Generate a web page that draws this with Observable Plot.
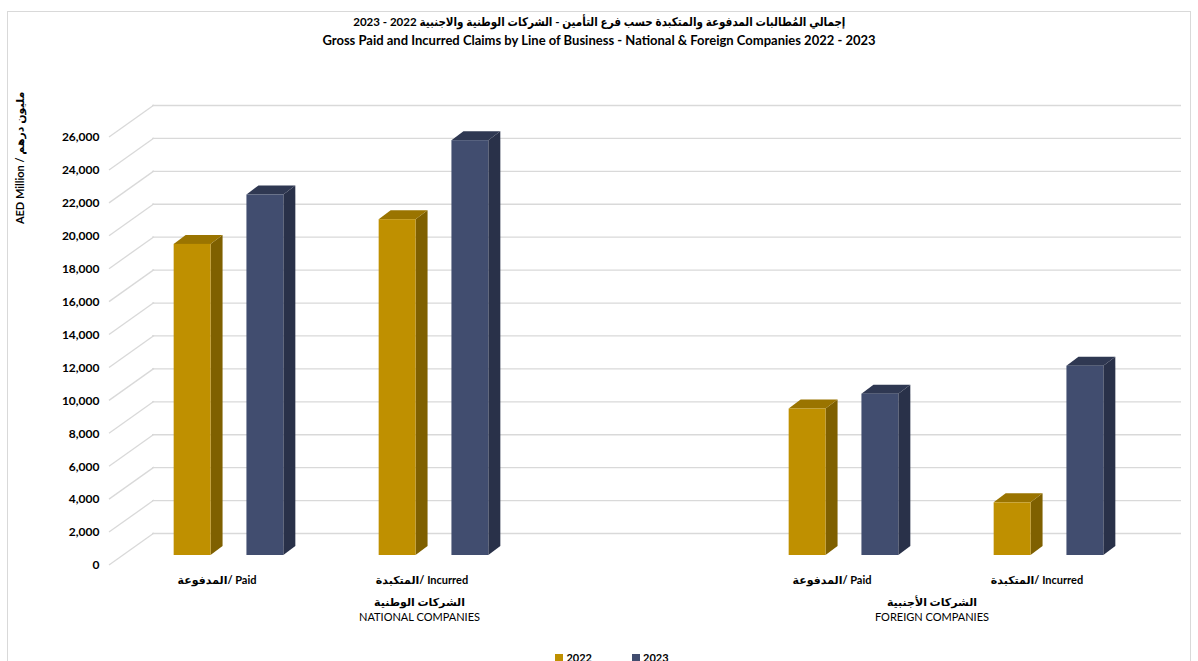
<!DOCTYPE html>
<html>
<head>
<meta charset="utf-8">
<script src="https://cdn.jsdelivr.net/npm/d3@7"></script>
<script src="https://cdn.jsdelivr.net/npm/@observablehq/plot@0.6"></script>
<style>
  body { margin: 0; background: #fff; }
  #wrap { position: relative; width: 1198px; height: 661px; overflow: hidden; font-family: Lato, "DejaVu Sans", sans-serif; }
  #frame { position: absolute; left: 7px; top: 11px; width: 1184px; height: 700px; border: 1px solid #d9d9d9; box-sizing: border-box; }
  #title { position: absolute; top: 10px; left: 0; width: 1198px; text-align: center; color: #000; }
  #title .ar { display: inline-block; font: bold 12px Lato, "DejaVu Sans Condensed", "DejaVu Sans", sans-serif; line-height: 18px; transform: scaleX(0.96); transform-origin: center; white-space: nowrap; }
  #title .en { display: inline-block; font: bold 13px Lato, "DejaVu Sans", sans-serif; line-height: 22px; white-space: nowrap; }
  #chart { position: absolute; top: 55px; left: 0; }
  #legend { position: absolute; top: 650px; left: 0; width: 1198px; display: flex; justify-content: center; gap: 40px; font: bold 11px Lato, sans-serif; line-height: 16px; padding-left: 26px; box-sizing: border-box; }
  #legend .item { display: flex; align-items: center; gap: 3px; }
  #legend .sw { width: 8px; height: 8px; display: inline-block; }
</style>
</head>
<body>
<div id="wrap">
  <div id="frame"></div>
  <div id="title">
    <div style="height:19px"><span class="ar" dir="rtl">إجمالي المُطالبات المدفوعة والمتكبدة حسب فرع التأمين - الشركات الوطنية والاجنبية 2022 - 2023</span></div>
    <div style="height:22px"><span class="en">Gross Paid and Incurred Claims by Line of Business - National &amp; Foreign Companies 2022 - 2023</span></div>
  </div>
  <div id="chart"></div>
  <div id="legend"></div>
</div>
<script>
// ---- data ----
const categoryKeys = ["nat-paid", "nat-incurred", "nat-gap", "for-paid", "for-incurred"];
const categoryLabels = ["المدفوعة/ Paid", "المتكبدة/ Incurred", "", "المدفوعة/ Paid", "المتكبدة/ Incurred"];
const groupNamesAr = ["الشركات الوطنية", "الشركات الأجنبية"];
const groupNamesEn = ["NATIONAL COMPANIES", "FOREIGN COMPANIES"];
const groupSpans = [["nat-paid", "nat-gap"], ["for-paid", "for-incurred"]];
const years = ["2022", "2023"];
const values2022 = [18900, 20400, null, 8900, 3200];
const values2023 = [21900, 25200, null, 9800, 11500];
const yTickValues = [0, 2000, 4000, 6000, 8000, 10000, 12000, 14000, 16000, 18000, 20000, 22000, 24000, 26000];
const yTickLabels = ["0", "2,000", "4,000", "6,000", "8,000", "10,000", "12,000", "14,000", "16,000", "18,000", "20,000", "22,000", "24,000", "26,000"];
const yTitle = "AED Million / مليون درهم";

// ---- styles ----
const colors = {
  "2022": {front: "#BF9000", side: "#7F6000", top: "#9A7400"},
  "2023": {front: "#414D6F", side: "#293149", top: "#2F3852"}
};
const gridColor = "#D9D9D9";
const backDx = 28, backDy = -22;   // back wall offset from bar plane
const frontDx = -17, frontDy = 10; // front (label) plane offset
const barDx = 12, barDy = -9;      // bar depth
const fontFam = "Lato, 'DejaVu Sans', sans-serif";

const bars = [];
categoryKeys.forEach((k, i) => {
  if (values2022[i] != null) bars.push({key: k, year: "2022", value: values2022[i]});
  if (values2023[i] != null) bars.push({key: k, year: "2023", value: values2023[i]});
});
const cats = categoryKeys.map((k, i) => ({key: k, label: categoryLabels[i]})).filter(d => d.label);

function floorLines(index, scales) {
  const g = d3.create("svg:g");
  const x0 = scales.x(categoryKeys[0]);
  for (const v of yTickValues) {
    const yv = scales.y(v);
    g.append("line")
      .attr("x1", x0 + frontDx).attr("y1", yv + frontDy)
      .attr("x2", x0 + backDx).attr("y2", yv + backDy)
      .attr("stroke", gridColor).attr("stroke-width", 1.3);
  }
  return g.node();
}

function bars3d(index, scales) {
  const g = d3.create("svg:g");
  const bw = scales.x.bandwidth();
  const y0 = scales.y(0);
  for (const d of bars) {
    const c = scales.x(d.key) + bw / 2 + (d.year === "2022" ? -1 : 1) * 0.1775 * bw;
    const w = 0.18 * bw;
    const xl = c - w / 2, xr = c + w / 2, yt = scales.y(d.value);
    const col = colors[d.year];
    g.append("polygon")
      .attr("points", [[xr, yt], [xr + barDx, yt + barDy], [xr + barDx, y0 + barDy], [xr, y0]].join(" "))
      .attr("fill", col.side);
    g.append("polygon")
      .attr("points", [[xl, yt], [xl + barDx, yt + barDy], [xr + barDx, yt + barDy], [xr, yt]].join(" "))
      .attr("fill", col.top);
    g.append("rect")
      .attr("x", xl).attr("y", yt).attr("width", w).attr("height", y0 - yt)
      .attr("fill", col.front);
  }
  return g.node();
}

function groupLabels(index, scales) {
  const g = d3.create("svg:g")
    .attr("font-family", fontFam).attr("font-size", 11).attr("text-anchor", "middle").attr("fill", "#000");
  const bw = scales.x.bandwidth();
  const y0 = scales.y(0);
  groupSpans.forEach((span, i) => {
    const cx = (scales.x(span[0]) + scales.x(span[1]) + bw) / 2 + frontDx + 3;
    g.append("text").attr("x", cx).attr("y", y0 + 47).attr("dy", "0.35em").attr("font-weight", "bold").text(groupNamesAr[i]);
    g.append("text").attr("x", cx).attr("y", y0 + 62).attr("dy", "0.35em").text(groupNamesEn[i]);
  });
  return g.node();
}

function yAxisTitle(index, scales) {
  // centred on the upper part of the value axis, left of the tick labels
  const yc = (scales.y(26000) + scales.y(22000)) / 2 - 2;
  const g = d3.create("svg:g")
    .attr("transform", `translate(20,${yc}) rotate(-90)`);
  g.append("text")
    .attr("text-anchor", "middle").attr("dy", "0.35em")
    .attr("font-family", fontFam).attr("font-size", 11).attr("font-weight", "bold").attr("fill", "#000")
    .text(yTitle);
  return g.node();
}

const chart = Plot.plot({
  width: 1198,
  height: 585,
  marginLeft: 124,
  marginRight: 45,
  marginTop: 72,
  marginBottom: 85,
  style: {fontFamily: fontFam, background: "transparent"},
  x: {type: "band", domain: categoryKeys, padding: 0, axis: null},
  y: {domain: [0, 26000], axis: null},
  marks: [
    Plot.ruleY(yTickValues, {y: d => d, dx: backDx, dy: backDy, stroke: gridColor, strokeWidth: 1.3}),
    floorLines,
    bars3d,
    Plot.text(yTickValues, {y: d => d, text: (d, i) => yTickLabels[i], frameAnchor: "left", textAnchor: "end", dx: -25, dy: frontDy, fontSize: 12, fontWeight: "bold", fill: "#000"}),
    yAxisTitle,
    Plot.text(cats, {x: "key", y: () => 0, text: "label", dx: frontDx + 5, dy: 25, fontSize: 11, fontWeight: "bold", fill: "#000"}),
    groupLabels
  ]
});
document.getElementById("chart").appendChild(chart);

const legend = d3.select("#legend");
years.forEach(yr => {
  const it = legend.append("div").attr("class", "item");
  it.append("span").attr("class", "sw").style("background", colors[yr].front);
  it.append("span").text(yr);
});
</script>
</body>
</html>
